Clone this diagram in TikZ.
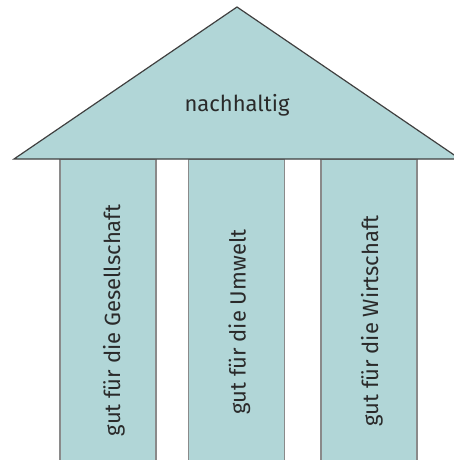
\documentclass[tikz,border=0pt]{standalone}
\usepackage{fontspec}
\setmainfont{Fira Sans}
\usetikzlibrary{calc}
\definecolor{temple}{HTML}{B1D6D7}
\definecolor{roofline}{HTML}{404040}
\definecolor{pillarline}{HTML}{8A8A8A}
\definecolor{inscription}{HTML}{2A2A2A}

\begin{document}
\begin{tikzpicture}[x=1pt, y=-1pt,
    pillar/.style={draw=pillarline, line width=1.2pt, fill=temple, inner sep=0pt,
        minimum width=96pt, minimum height=323pt},
    lettering/.style={text=inscription, font=\fontsize{22}{26}\selectfont}]

    \useasboundingbox (0, 0) rectangle (453, 460);

    % pillars
    \path node (left) [pillar] at (108, 320.5) {};
    \path node (middle) [pillar] at (236.5, 320.5) {};
    \path node (right) [pillar] at (369, 320.5) {};

    % roof
    \draw[roofline, fill=temple, line width=1.2pt, line join=miter]
        (14, 159) coordinate (eaveL) -- (237, 7) coordinate (apex) -- (460, 159) coordinate (eaveR) -- cycle;
    \path node (roof) [lettering] at (237, 105) {nachhaltig};

    \path node [lettering, rotate=90] at ($(left)+(6, 0)$) {gut für die Gesellschaft};
    \path node [lettering, rotate=90] at ($(middle)+(3, 1.5)$) {gut für die Umwelt};
    \path node [lettering, rotate=90] at ($(right)+(3, 0.5)$) {gut für die Wirtschaft};

\end{tikzpicture}
\end{document}
